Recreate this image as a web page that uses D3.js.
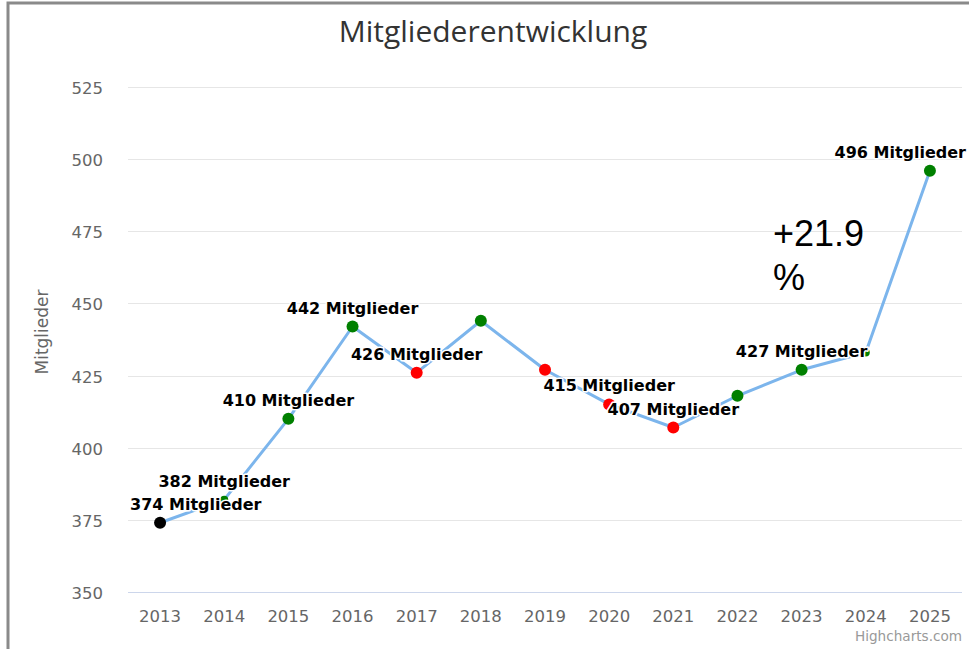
<!DOCTYPE html>
<html>
    <head>
        <meta charset="utf-8">
        <title>Mitgliederentwicklung</title>
        <script src="https://d3js.org/d3.v7.min.js" charset="utf-8"></script>
        <style type="text/css">
        body {
            margin: 0;
            background: white;
        }

        svg text {
            font-family: 'DejaVu Sans', sans-serif;
        }

        .title {
            font-family: 'Open Sans', sans-serif;
            font-size: 30px;
            fill: #333333;
        }

        .tick_label {
            font-size: 16.5px;
            fill: #666666;
        }

        .axis_title {
            font-size: 17px;
            fill: #666666;
        }

        .data_label {
            font-size: 16px;
            font-weight: bold;
            fill: black;
            stroke: white;
            stroke-width: 3px;
            stroke-linejoin: round;
            paint-order: stroke;
        }

        .growth {
            font-family: 'Liberation Sans', Arial, sans-serif;
            font-size: 36px;
            fill: black;
        }

        .credits {
            font-size: 13.6px;
            fill: #999999;
        }
        </style>
    </head>
    <body>
        <script type="text/javascript">

        // data
        var years   = [2013, 2014, 2015, 2016, 2017, 2018, 2019, 2020, 2021, 2022, 2023, 2024, 2025];
        var members = [374, 382, 410, 442, 426, 444, 427, 415, 407, 418, 427, 433, 496];
        var labelled = [2013, 2014, 2015, 2016, 2017, 2020, 2021, 2023, 2025];
        var smallMarkers = [2014, 2024];
        var yTicks = [350, 375, 400, 425, 450, 475, 500, 525];
        var growthFrom = 2021;

        var w = 969;
        var h = 649;

        // plot area (note: "top" is taken by window.top)
        var plotLeft = 128, plotRight = 962, plotTop = 87, plotBottom = 592;

        var svg = d3.select('body')
          .append('svg')
          .attr('width', w)
          .attr('height', h);

        // gray frame (top + left)
        svg.append('rect')
          .attr('x', 8).attr('y', 3)
          .attr('width', w).attr('height', h + 10)
          .attr('fill', 'none')
          .attr('stroke', '#8a8a8a')
          .attr('stroke-width', 3);

        var x = d3.scalePoint()
          .domain(years)
          .range([plotLeft, plotRight])
          .padding(0.5);

        var y = d3.scaleLinear()
          .domain([350, 525])
          .range([plotBottom, plotTop]);

        // title
        svg.append('text')
          .attr('class', 'title')
          .attr('x', 493)
          .attr('y', 42)
          .attr('text-anchor', 'middle')
          .text('Mitgliederentwicklung');

        // grid
        svg.append('g')
          .selectAll('line')
          .data(yTicks.filter(function(d){ return d != 350; }))
          .enter()
          .append('line')
          .attr('x1', plotLeft).attr('x2', plotRight)
          .attr('y1', function(d){ return Math.round(y(d)) + 0.5; })
          .attr('y2', function(d){ return Math.round(y(d)) + 0.5; })
          .attr('stroke', '#e6e6e6')
          .attr('stroke-width', 1);

        // x axis line
        svg.append('line')
          .attr('x1', plotLeft).attr('x2', plotRight)
          .attr('y1', y(350) + 0.5).attr('y2', y(350) + 0.5)
          .attr('stroke', '#ccd6eb')
          .attr('stroke-width', 1);

        // y labels
        svg.append('g')
          .selectAll('text')
          .data(yTicks)
          .enter()
          .append('text')
          .attr('class', 'tick_label')
          .attr('x', 103)
          .attr('y', function(d){ return y(d) + 7; })
          .attr('text-anchor', 'end')
          .text(function(d){ return d; });

        // x labels
        svg.append('g')
          .selectAll('text')
          .data(years)
          .enter()
          .append('text')
          .attr('class', 'tick_label')
          .attr('x', function(d){ return x(d); })
          .attr('y', 622)
          .attr('text-anchor', 'middle')
          .text(function(d){ return d; });

        // y axis title
        svg.append('text')
          .attr('class', 'axis_title')
          .attr('transform', 'translate(48, 332) rotate(-90)')
          .attr('text-anchor', 'middle')
          .text('Mitglieder');

        var points = years.map(function(d, i){
            var color = 'black';
            if (i > 0) color = members[i] >= members[i - 1] ? 'green' : 'red';
            return { year: d, value: members[i], color: color };
        });

        // line
        var line = d3.line()
          .x(function(d){ return x(d.year); })
          .y(function(d){ return y(d.value); });

        svg.append('path')
          .datum(points)
          .attr('d', line)
          .attr('fill', 'none')
          .attr('stroke', '#7cb5ec')
          .attr('stroke-width', 3)
          .attr('stroke-linejoin', 'round');

        // markers
        svg.append('g')
          .selectAll('circle')
          .data(points)
          .enter()
          .append('circle')
          .attr('cx', function(d){ return x(d.year); })
          .attr('cy', function(d){ return y(d.value); })
          .attr('r', function(d){ return smallMarkers.indexOf(d.year) >= 0 ? 4 : 6; })
          .attr('fill', function(d){ return d.color; });

        // data labels
        svg.append('g')
          .selectAll('text')
          .data(points.filter(function(d){ return labelled.indexOf(d.year) >= 0; }))
          .enter()
          .append('text')
          .attr('class', 'data_label')
          .attr('x', function(d){ return x(d.year); })
          .attr('y', function(d){ return y(d.value) - 13; })
          .attr('text-anchor', 'middle')
          .text(function(d){ return d.value + ' Mitglieder'; })
          .each(function(d){
            // keep inside the chart like highcharts does
            var len = this.getComputedTextLength();
            var cx = x(d.year);
            if (cx - len / 2 < 130) cx = 130 + len / 2;
            if (cx + len / 2 > 966) cx = 966 - len / 2;
            d3.select(this).attr('x', cx);
          });

        // growth note
        var first = members[years.indexOf(growthFrom)];
        var last = members[members.length - 1];
        var pct = (last - first) / first * 100;

        var g = svg.append('text')
          .attr('class', 'growth')
          .attr('x', 773)
          .attr('y', 246);
        g.append('tspan').text('+' + pct.toFixed(1));
        g.append('tspan').attr('x', 773).attr('dy', 44).text('%');

        // credits
        svg.append('text')
          .attr('class', 'credits')
          .attr('x', 962)
          .attr('y', 641)
          .attr('text-anchor', 'end')
          .text('Highcharts.com');

        </script>
    </body>
</html>
